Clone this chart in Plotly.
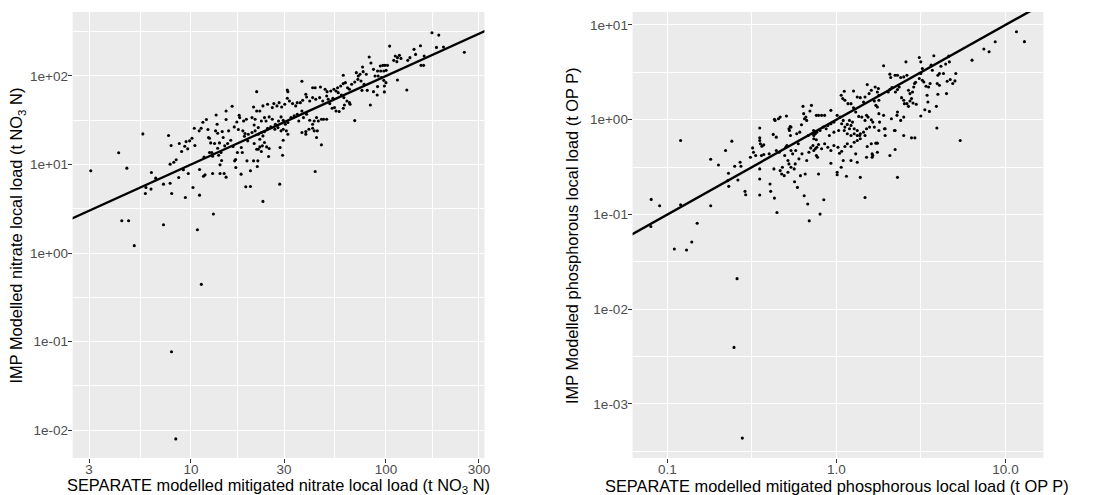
import numpy as np
import plotly.graph_objects as go

# ---- data (stored as log10 of the loads) ----
nitrate_separate_log10 = [
    0.486, 0.629, 0.671, 0.753, 0.645, 0.680, 0.766, 0.769, 0.797, 0.795,
    0.819, 0.859, 0.859, 0.885, 0.893, 0.901, 0.898, 0.893, 0.912, 0.924,
    0.940, 0.937, 0.952, 0.961, 0.971, 0.968, 0.975, 0.983, 0.986, 0.993,
    1.005, 1.010, 1.017, 1.020, 1.033, 1.044, 1.044, 1.042, 1.052, 1.061,
    1.064, 1.072, 1.067, 1.079, 1.087, 1.090, 1.095, 1.095, 1.101, 1.107,
    1.111, 1.115, 1.111, 1.121, 1.126, 1.129, 1.134, 1.137, 1.137, 1.142,
    1.146, 1.149, 1.149, 1.154, 1.157, 1.160, 1.165, 1.170, 1.173, 1.180,
    1.180, 1.180, 1.188, 1.193, 1.204, 1.211, 1.216, 1.222, 1.224, 1.229,
    1.230, 1.235, 1.238, 1.243, 1.247, 1.250, 1.257, 1.258, 1.263, 1.266,
    1.270, 1.274, 1.277, 1.281, 1.284, 1.287, 1.291, 1.294,
    0.709, 1.053, 0.900, 0.922, 2.402,
    2.236, 2.271, 2.019, 2.177, 2.259, 2.295, 2.144, 2.152, 2.196, 1.914,
    1.923, 2.048, 2.059, 2.069, 2.077, 2.040, 2.056, 2.112, 2.123, 2.180,
    2.193, 1.880, 1.883, 1.899, 1.971, 1.984, 1.995, 2.008, 1.957, 1.973,
    1.989, 2.001, 1.781, 1.848, 1.858, 1.867, 1.936, 1.944, 1.960, 1.976,
    1.989, 2.000, 1.992, 2.059, 1.957, 1.936, 1.955, 1.992, 1.904, 1.877,
    2.107, 1.569, 1.337, 1.494, 1.497, 1.624, 1.637, 1.664, 1.688, 1.698,
    1.717, 1.733, 1.744, 1.752, 1.768, 1.781, 1.792, 1.803, 1.813, 1.824,
    1.840, 1.856, 1.872, 1.888, 1.755, 1.771, 1.784, 1.800, 1.813, 1.816,
    1.696, 1.704, 1.712, 1.728, 1.736, 1.744, 1.760, 1.781, 1.787, 1.724,
    1.676, 1.660, 1.640, 1.624, 1.609, 1.593, 1.589, 1.573, 1.561, 1.545,
    1.537, 1.521, 1.505, 1.494, 1.481, 1.465, 1.452, 1.441, 1.425, 1.417,
    1.393, 1.369, 1.353, 1.337, 1.321, 1.313, 1.329, 1.324, 1.345, 1.361,
    1.377, 1.385, 1.401, 1.417, 1.433, 1.449, 1.462, 1.473, 1.484, 1.497,
    1.513, 1.529, 1.545, 1.553, 1.569, 1.577, 1.593, 1.609, 1.624, 1.632,
    1.644, 1.653, 1.669, 1.680, 1.696, 1.569, 1.589, 1.589, 1.605, 1.624,
    1.632, 1.648, 1.497, 1.473, 1.462, 1.446, 1.430, 1.409, 1.393, 1.377,
    1.361, 1.345, 1.329, 1.313, 1.369, 1.353, 1.377, 1.366, 1.353, 1.345,
    1.388, 1.401, 1.398, 1.361, 1.337, 1.324, 1.321, 1.343, 1.340, 1.305,
    1.305, 1.457, 1.473, 1.470, 1.644, 1.669, 1.840, 1.920, 1.637, 1.455,
    1.369, 1.489,
]
nitrate_imp_log10 = [
    0.929, 1.132, 0.959, 1.346, 0.365, 0.365, 0.673, 0.741, 0.910, 0.722,
    0.846, 0.320, 0.778, 1.327, 0.789, 0.673, 1.214, 1.004, 1.026, 1.053,
    1.237, 0.853, 1.147, 0.940, 0.628, 1.207, 1.259, 1.177, 0.898, 1.267,
    1.297, 0.741, 1.410, 1.214, 0.263, 0.654, 0.944, 1.380, 1.410, 1.477,
    0.868, 0.883, 1.083, 1.508, 1.395, 1.305, 1.297, 1.135, 1.244, 1.135,
    1.094, 0.440, 0.898, 1.237, 1.380, 1.560, 1.455, 1.353, 1.184, 1.105,
    1.244, 0.898, 0.996, 1.135, 1.045, 1.372, 1.305, 0.898, 1.211, 1.605,
    1.508, 0.857, 1.237, 1.380, 1.274, 1.658, 1.203, 1.425, 1.041, 1.056,
    0.966, 1.481, 1.135, 1.395, 1.556, 1.530, 0.891, 1.192, 1.135, 1.380,
    1.492, 1.320, 1.350, 0.748, 1.511, 1.041, 1.267, 1.342,
    0.083, -0.354, -1.115, -2.100, 2.268,
    2.489, 2.462, 2.338, 2.342, 2.323, 2.327, 2.301, 2.244, 2.226, 2.214,
    2.147, 2.226, 2.207, 2.233, 2.199, 2.177, 2.162, 2.177, 2.207, 2.120,
    2.120, 2.102, 2.049, 2.019, 2.113, 2.120, 2.120, 2.120, 2.056, 2.056,
    2.056, 2.064, 2.008, 2.038, 2.000, 2.019, 2.075, 2.000, 2.000, 1.981,
    1.951, 1.925, 1.887, 1.955, 1.880, 1.823, 1.786, 1.820, 1.838, 1.838,
    1.842, 1.940, 1.823, 1.842, 1.823, 1.868, 1.868, 1.876, 1.850, 1.823,
    1.831, 1.850, 1.831, 1.868, 1.887, 1.914, 1.925, 1.868, 1.850, 1.906,
    1.932, 1.962, 1.944, 1.906, 1.812, 1.786, 1.756, 1.718, 1.699, 1.680,
    1.774, 1.737, 1.688, 1.748, 1.643, 1.605, 1.598, 1.635, 1.673, 1.635,
    1.718, 1.756, 1.737, 1.756, 1.718, 1.763, 1.793, 1.726, 1.699, 1.699,
    1.662, 1.688, 1.718, 1.748, 1.680, 1.650, 1.699, 1.662, 1.688, 1.643,
    1.680, 1.662, 1.605, 1.605, 1.650, 1.530, 1.511, 1.447, 1.417, 1.492,
    1.530, 1.492, 1.538, 1.511, 1.455, 1.492, 1.538, 1.500, 1.455, 1.474,
    1.530, 1.549, 1.568, 1.492, 1.605, 1.530, 1.568, 1.500, 1.455, 1.492,
    1.530, 1.492, 1.511, 1.511, 1.511, 1.361, 1.372, 1.342, 1.398, 1.410,
    1.380, 1.380, 1.342, 1.398, 1.380, 1.417, 1.398, 1.425, 1.410, 1.372,
    1.361, 1.342, 1.380, 1.361, 1.323, 1.286, 1.248, 1.211, 1.199, 1.173,
    1.199, 1.180, 1.090, 1.147, 1.173, 1.237, 1.041, 1.041, 0.977, 0.929,
    0.752, 1.192, 1.274, 1.105, 1.305, 1.222, 1.496, 1.673, 0.921, 0.778,
    0.583, 1.380,
]

phosphorus_separate_log10 = [
    -1.096, -1.046, -1.098, -0.922, -0.922, -0.824, -0.856, -0.959, -0.887, -0.744,
    -0.744, -0.698, -0.656, -0.619, -0.639, -0.643, -0.637, -0.602, -0.583, -0.570,
    -0.565, -0.541, -0.537, -0.509, -0.496, -0.491, -0.478, -0.454, -0.454, -0.454,
    -0.450, -0.441, -0.430, -0.454, -0.454, -0.454, -0.444, -0.430, -0.398, -0.393,
    -0.389, -0.374, -0.370, -0.367, -0.367, -0.363, -0.356, -0.352, -0.343, -0.333,
    -0.356, -0.339, -0.333, -0.324, -0.320, -0.309, -0.306, -0.300, -0.296, -0.293,
    -0.287, -0.281, -0.278, -0.274, -0.269, -0.272, -0.269, -0.281, -0.269, -0.287,
    -0.259, -0.250, -0.248, -0.244, -0.241, -0.235, -0.231, -0.226, -0.222, -0.217,
    -0.213, -0.207, -0.204, -0.198, -0.194, -0.189, -0.181, -0.176, -0.185, -0.191,
    -0.176, -0.170, -0.167, -0.163, -0.161, -0.157, -0.152, -0.148, -0.144, -0.139,
    -0.135,
    -0.588, -0.606, -0.557, 1.065, 1.112,
    0.939, 0.872, 0.903, 0.802, 0.490, 0.499, 0.576, 0.664, 0.668, 0.646,
    0.618, 0.279, 0.411, 0.560, 0.567, 0.508, 0.499, 0.490, 0.508, 0.517,
    0.530, 0.545, 0.554, 0.600, 0.609, 0.633, 0.655, 0.673, 0.701, 0.706,
    0.688, 0.596, 0.609, 0.536, 0.541, 0.600, 0.651, 0.591, 0.550, 0.523,
    0.499, 0.472, 0.453, 0.444, 0.435, 0.426, 0.457, 0.450, 0.462, 0.468,
    0.417, 0.398, 0.380, 0.361, 0.347, 0.316, 0.321, 0.306, 0.316, 0.328,
    0.349, 0.361, 0.371, 0.385, 0.398, 0.402, 0.417, 0.426, 0.435, 0.361,
    0.358, 0.380, 0.398, 0.325, 0.347, 0.288, 0.251, 0.255, 0.279, 0.251,
    0.242, 0.233, 0.224, 0.251, 0.251, 0.242, 0.248, 0.229, 0.206, 0.182,
    0.193, 0.169, 0.160, 0.141, 0.123, 0.101, 0.046, 0.028, 0.037, 0.050,
    0.068, 0.086, 0.101, 0.114, 0.132, 0.150, 0.169, 0.178, 0.187, 0.206,
    0.215, 0.224, 0.196, 0.178, 0.160, 0.141, 0.123, 0.105, 0.086, 0.095,
    0.077, 0.064, 0.050, 0.040, 0.022, 0.004, -0.015, -0.033, -0.051, -0.061,
    -0.079, -0.097, -0.116, -0.125, -0.134, -0.033, -0.070, -0.088, -0.106, -0.119,
    -0.042, -0.015, 0.013, 0.031, 0.046, 0.064, 0.077, 0.086, 0.105, 0.123,
    0.138, 0.169, -0.134, -0.119, -0.106, -0.116, -0.125, -0.134, -0.119, -0.112,
    -0.088, -0.070, -0.051, -0.033, -0.015, 0.009, 0.018, 0.031, 0.050, 0.064,
    0.086, 0.105, 0.123, 0.141, 0.182, 0.206, 0.233, 0.242, 0.242, 0.211,
    0.211, 0.215, 0.178, 0.123, 0.114, 0.086, 0.040, 0.028, 0.004, 0.004,
    0.059, -0.033, -0.106, -0.075, -0.097, 0.169, 0.141, 0.361, 0.316, 0.347,
    0.398, 0.444, 0.464, 0.594, 0.732, 0.284, 0.288, 0.343,
]
phosphorus_imp_log10 = [
    -0.841, -0.908, -1.127, -0.219, -0.898, -1.092, -1.290, -1.364, -1.375, -0.417,
    -0.908, -0.477, -0.325, -0.226, -0.565, -0.643, -0.703, -0.491, -0.636, -0.449,
    -0.491, -0.756, -0.792, -0.396, -0.297, -0.343, -0.378, -0.088, -0.191, -0.219,
    -0.254, -0.279, -0.265, -0.519, -0.625, -0.795, -0.378, -0.367, -0.360, -0.678,
    -0.756, -0.155, -0.519, -0.827, 0.004, -0.007, -0.184, -0.979, 0.011, 0.028,
    -0.325, -0.343, -0.537, -0.572, -0.502, -0.590, -0.378, -0.290, 0.039, -0.272,
    -0.431, -0.095, -0.113, -0.071, -0.078, -0.166, -0.325, -0.466, -0.502, -0.555,
    -0.360, -0.519, -0.654, -0.466, -0.325, -0.148, -0.714, -0.254, -0.413, -0.131,
    -0.590, -0.053, -0.360, 0.141, 0.064, 0.011, 0.028, -0.007, -0.572, -0.802,
    -0.431, -0.890, -0.166, -0.343, -1.067, 0.092, -0.297, 0.152, -0.148, -0.272,
    -0.113,
    -1.677, -2.403, -3.360, 0.929, 0.824,
    0.823, 0.746, 0.717, 0.629, 0.657, 0.611, 0.675, 0.671, 0.611, 0.587,
    0.565, 0.569, 0.611, 0.576, 0.523, 0.541, 0.488, 0.435, 0.417, 0.399,
    0.353, 0.346, 0.382, 0.470, 0.488, 0.488, 0.406, 0.424, 0.410, 0.488,
    0.382, 0.382, 0.364, 0.258, 0.187, 0.269, 0.276, 0.141, 0.088, 0.106,
    0.039, 0.163, 0.177, 0.223, 0.276, 0.311, 0.346, 0.293, 0.382, 0.396,
    0.470, 0.452, 0.445, 0.470, 0.470, 0.481, 0.445, 0.293, 0.318, 0.339,
    0.293, 0.318, 0.346, 0.233, 0.205, 0.170, 0.170, 0.141, 0.198, 0.081,
    0.046, -0.007, 0.028, 0.011, -0.113, -0.095, -0.113, -0.025, 0.046, 0.064,
    0.134, 0.152, 0.198, 0.205, 0.258, 0.293, 0.329, 0.346, 0.311, 0.371,
    0.276, 0.240, 0.187, 0.233, 0.240, 0.304, 0.300, 0.258, 0.223, 0.205,
    0.170, 0.170, 0.127, 0.081, 0.035, 0.028, -0.007, 0.046, 0.028, 0.000,
    -0.025, -0.078, -0.078, -0.095, -0.131, -0.148, -0.113, -0.095, -0.060, -0.025,
    -0.007, -0.049, -0.078, -0.007, 0.028, 0.046, -0.025, -0.042, -0.060, -0.095,
    -0.078, -0.113, -0.131, -0.148, -0.166, 0.099, 0.046, 0.046, 0.046, 0.046,
    -0.166, -0.131, -0.113, -0.042, -0.113, -0.148, -0.095, -0.166, -0.148, -0.166,
    -0.166, -0.166, -0.201, -0.212, -0.261, -0.290, -0.307, -0.325, -0.378, -0.396,
    -0.307, -0.254, -0.290, -0.325, -0.272, -0.290, -0.353, -0.332, -0.283, -0.254,
    -0.283, -0.237, -0.219, -0.201, -0.283, -0.254, -0.247, -0.343, -0.247, -0.360,
    -0.396, -0.378, -0.396, -0.449, -0.360, -0.431, -0.431, -0.502, -0.555, -0.580,
    -0.597, -0.459, -0.572, -0.845, -0.996, -0.820, -0.608, -0.608, -0.378, -0.314,
    -0.166, -0.191, -0.191, -0.088, -0.219, -0.095, -0.166, -0.113,
]

nitrate_x_ticks = [3, 10, 30, 100, 300]
nitrate_x_labels = ["3", "10", "30", "100", "300"]
nitrate_y_ticks = [0.01, 0.1, 1, 10, 100]
nitrate_y_labels = ["1e-02", "1e-01", "1e+00", "1e+01", "1e+02"]
phos_x_ticks = [0.1, 1, 10]
phos_x_labels = ["0.1", "1.0", "10.0"]
phos_y_ticks = [0.001, 0.01, 0.1, 1, 10]
phos_y_labels = ["1e-03", "1e-02", "1e-01", "1e+00", "1e+01"]
one_to_one = [1e-5, 1e5]  # 1:1 reference line

nitrate_x_title = "SEPARATE modelled mitigated nitrate local load (t NO<sub>3</sub> N)"
nitrate_y_title = "IMP Modelled nitrate local load (t NO<sub>3</sub> N)"
phos_x_title = "SEPARATE modelled mitigated phosphorous local load (t OP P)"
phos_y_title = "IMP Modelled phosphorous local load (t OP P)"

# ---- figure ----
# the page body has an 8 px margin, so the figure is drawn 8 px smaller
OFF = 8
W, H = 1116 - OFF, 495 - OFF
FONT = "Liberation Sans, Arial, Helvetica, sans-serif"


def px_x(p):
    return (p - OFF) / W


def px_y(p):
    return 1 - (p - OFF) / H


def minor_vals(ticks, lo, hi):
    lt = np.log10(np.array(ticks, dtype=float))
    step = lt[1] - lt[0]
    ext = np.concatenate([[lt[0] - step], lt, [lt[-1] + step]])
    mids = (ext[:-1] + ext[1:]) / 2
    mids = mids[(mids > lo) & (mids < hi)]
    return list(10 ** mids)


def axis_style(ticks, labels, rng, domain, anchor, standoff):
    return dict(
        type="log", range=rng, domain=domain, anchor=anchor,
        tickmode="array", tickvals=ticks, ticktext=labels,
        ticks="outside", ticklen=4, tickwidth=1.1, tickcolor="#333333",
        ticklabelstandoff=standoff,
        tickfont=dict(family=FONT, size=13.5, color="#4D4D4D"),
        showgrid=True, gridcolor="white", gridwidth=1.2,
        zeroline=False, showline=False,
        minor=dict(tickmode="array", tickvals=minor_vals(ticks, rng[0], rng[1]),
                   showgrid=True, gridcolor="white", gridwidth=0.6, ticks=""),
    )


fig = go.Figure()
fig.add_trace(go.Scatter(
    x=10 ** np.array(nitrate_separate_log10), y=10 ** np.array(nitrate_imp_log10),
    mode="markers", marker=dict(color="black", size=3.1, line=dict(width=0)),
    xaxis="x", yaxis="y"))
fig.add_trace(go.Scatter(
    x=one_to_one, y=one_to_one, mode="lines",
    line=dict(color="black", width=2.4), xaxis="x", yaxis="y"))
fig.add_trace(go.Scatter(
    x=10 ** np.array(phosphorus_separate_log10), y=10 ** np.array(phosphorus_imp_log10),
    mode="markers", marker=dict(color="black", size=3.1, line=dict(width=0)),
    xaxis="x2", yaxis="y2"))
fig.add_trace(go.Scatter(
    x=one_to_one, y=one_to_one, mode="lines",
    line=dict(color="black", width=2.4), xaxis="x2", yaxis="y2"))

ydom = [px_y(458), px_y(12)]
fig.update_layout(
    width=W, height=H, margin=dict(l=0, r=0, t=0, b=0),
    paper_bgcolor="white", plot_bgcolor="#EBEBEB", showlegend=False,
    font=dict(family=FONT, color="black"),
    xaxis=axis_style(nitrate_x_ticks, nitrate_x_labels, [0.393, 2.505], [px_x(73), px_x(487)], "y", -5),
    yaxis=axis_style(nitrate_y_ticks, nitrate_y_labels, [-2.316, 2.723], ydom, "x", -3),
    xaxis2=axis_style(phos_x_ticks, phos_x_labels, [-1.206, 1.224], [px_x(636), px_x(1049)], "y2", -5),
    yaxis2=axis_style(phos_y_ticks, phos_y_labels, [-3.57, 1.137], ydom, "x2", -3),
)

title_font = dict(family=FONT, size=16.4, color="black")
fig.add_annotation(text=nitrate_x_title, x=px_x(280), y=px_y(486), xref="paper", yref="paper",
                   showarrow=False, xanchor="center", yanchor="middle", font=title_font)
fig.add_annotation(text=nitrate_y_title, x=px_x(17.5), y=px_y(235), xref="paper", yref="paper",
                   showarrow=False, xanchor="center", yanchor="middle", textangle=-90, font=title_font)
fig.add_annotation(text=phos_x_title, x=px_x(842), y=px_y(486), xref="paper", yref="paper",
                   showarrow=False, xanchor="center", yanchor="middle", font=title_font)
fig.add_annotation(text=phos_y_title, x=px_x(575), y=px_y(235), xref="paper", yref="paper",
                   showarrow=False, xanchor="center", yanchor="middle", textangle=-90, font=title_font)

fig.write_html("out.html")
